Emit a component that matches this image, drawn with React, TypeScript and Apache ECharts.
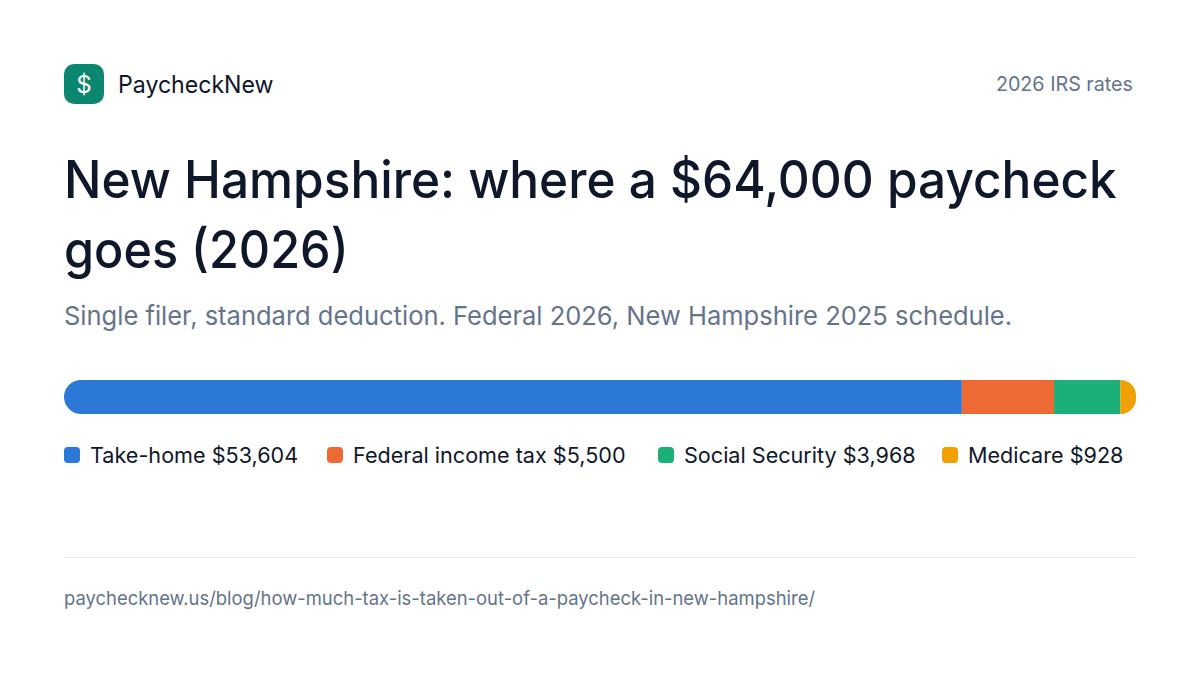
import React, { useEffect, useRef } from "react";
import * as echarts from "echarts";

const brand = "PaycheckNew";
const badge = "2026 IRS rates";
const titleLines = ["New Hampshire: where a $64,000 paycheck", "goes (2026)"];
const subtitle = "Single filer, standard deduction. Federal 2026, New Hampshire 2025 schedule.";
const footer = "paychecknew.us/blog/how-much-tax-is-taken-out-of-a-paycheck-in-new-hampshire/";
const categories = ["Paycheck"];
const names = ["Take-home", "Federal income tax", "Social Security", "Medicare"];
const values = [53604, 5500, 3968, 928];
const colors = ["#2b78d6", "#ee6a35", "#1bb07a", "#f0a000"];
const legendLefts = [64, 327, 658, 942];
const total = 64000;

const FONT = "Inter";
const money = (v: number) => "$" + v.toLocaleString("en-US");

export default function App() {
  const ref = useRef<HTMLDivElement>(null);
  useEffect(() => {
    document.body.style.margin = "0";
    const chart = echarts.init(ref.current!, null, { renderer: "svg" });
    chart.setOption({
      animation: false,
      backgroundColor: "#ffffff",
      textStyle: { fontFamily: FONT },
      grid: { left: 64, top: 380, width: 1072, height: 34 },
      xAxis: { type: "value", min: 0, max: total, show: false },
      yAxis: { type: "category", data: categories, show: false },
      legend: names.map((n, i) => ({
        left: legendLefts[i],
        top: 444,
        icon: "roundRect",
        itemWidth: 16,
        itemHeight: 16,
        padding: 0,
        selectedMode: false,
        textStyle: { fontFamily: FONT, fontSize: 21.6, color: "#0f172a", padding: [0, 0, 0, 5] },
        data: [n],
        formatter: (s: string) => `${s} ${money(values[names.indexOf(s)])}`,
      })),
      series: names.map((name, i) => ({
        name,
        type: "bar",
        stack: "pay",
        barWidth: 34,
        data: [values[i]],
        itemStyle: {
          color: colors[i],
          borderRadius: i === 0 ? [17, 0, 0, 17] : i === names.length - 1 ? [0, 17, 17, 0] : 0,
        },
      })),
      graphic: [
        { type: "rect", x: 64, y: 64, shape: { width: 40, height: 40, r: 10 }, style: { fill: "#0b8770" } },
        { type: "text", x: 84, y: 84, style: { text: "$", fill: "#ffffff", font: `400 24px ${FONT}`, textAlign: "center", textVerticalAlign: "middle" } },
        { type: "text", x: 118, y: 84.5, scaleX: 0.963, style: { text: brand, fill: "#0f172a", font: `400 24px ${FONT}`, textVerticalAlign: "middle" } },
        { type: "text", x: 1133, y: 84, scaleX: 0.986, style: { text: badge, fill: "#64748b", font: `400 20px ${FONT}`, textAlign: "right", textVerticalAlign: "middle" } },
        { type: "text", x: 64, y: 179, scaleX: 0.953, style: { text: titleLines[0], fill: "#0f172a", font: `500 52px ${FONT}`, textVerticalAlign: "middle" } },
        { type: "text", x: 64, y: 249, scaleX: 0.934, style: { text: titleLines[1], fill: "#0f172a", font: `500 52px ${FONT}`, textVerticalAlign: "middle" } },
        { type: "text", x: 64, y: 315, scaleX: 0.981, style: { text: subtitle, fill: "#64748b", font: `400 26px ${FONT}`, textVerticalAlign: "middle" } },
        { type: "rect", x: 64, y: 557, shape: { width: 1072, height: 1 }, style: { fill: "#e2e8f0" } },
        { type: "text", x: 64, y: 598, scaleX: 0.97, style: { text: footer, fill: "#64748b", font: `400 19px ${FONT}`, textVerticalAlign: "middle" } },
      ],
    });
    return () => chart.dispose();
  }, []);
  return <div ref={ref} style={{ width: 1200, height: 675 }} />;
}
